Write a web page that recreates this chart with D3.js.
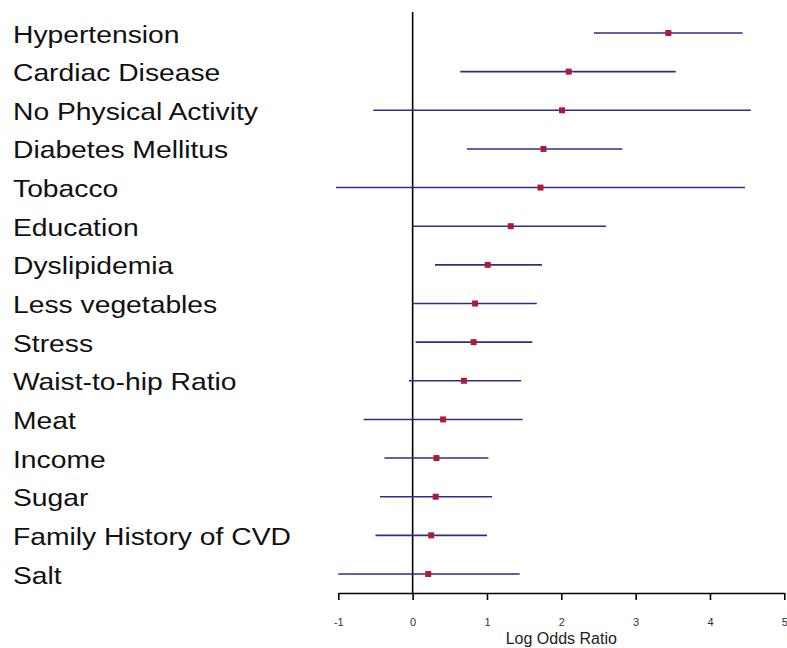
<!DOCTYPE html>
<html>
<head>
<meta charset="utf-8">
<script src="https://cdn.jsdelivr.net/npm/d3@7"></script>
<style>
  html, body { margin: 0; padding: 0; background: #fff; }
  svg { display: block; }
</style>
</head>
<body>
<script>
// Risk factors, top to bottom
const factors = [
  "Hypertension", "Cardiac Disease", "No Physical Activity", "Diabetes Mellitus",
  "Tobacco", "Education", "Dyslipidemia", "Less vegetables", "Stress",
  "Waist-to-hip Ratio", "Meat", "Income", "Sugar", "Family History of CVD", "Salt"
];
// Log odds ratio estimates and 95% interval bounds
const estimate = [3.44, 2.10, 2.01, 1.76, 1.72, 1.32, 1.01, 0.84, 0.82, 0.69, 0.41, 0.32, 0.31, 0.25, 0.21];
const lower    = [2.44, 0.64, -0.53, 0.73, -1.03, 0.00, 0.30, 0.00, 0.04, -0.05, -0.66, -0.38, -0.44, -0.50, -1.00];
const upper    = [4.44, 3.54, 4.55, 2.82, 4.47, 2.60, 1.74, 1.67, 1.61, 1.46, 1.48, 1.02, 1.07, 1.00, 1.44];
const xTicks = [-1, 0, 1, 2, 3, 4, 5];

const W = 787, H = 648;
const svg = d3.select("body").append("svg").attr("width", W).attr("height", H);
svg.append("rect").attr("width", W).attr("height", H).attr("fill", "#fff");

const x = d3.scaleLinear().domain([-1, 5]).range([338.3, 784.3]);
const y = d3.scalePoint().domain(factors).range([33, 574]);
const axisY = 593;

const rows = factors.map((f, i) => ({ f, est: estimate[i], lo: lower[i], hi: upper[i] }));

// Factor labels (slightly wide lettering)
svg.append("g").selectAll("text").data(rows).join("text")
  .attr("transform", d => `translate(13,${y(d.f) + 9.5}) scale(1.14,1)`)
  .attr("font-family", "Liberation Sans, Arial, sans-serif")
  .attr("font-size", 24.8)
  .attr("fill", "#111")
  .text(d => d.f);

// Zero reference line
svg.append("line")
  .attr("x1", x(0)).attr("x2", x(0))
  .attr("y1", 12).attr("y2", axisY)
  .attr("stroke", "#000").attr("stroke-width", 1.6);

// Interval segments
svg.append("g").selectAll("line").data(rows).join("line")
  .attr("x1", d => x(d.lo)).attr("x2", d => x(d.hi))
  .attr("y1", d => y(d.f)).attr("y2", d => y(d.f))
  .attr("stroke", "#2e2e86").attr("stroke-width", 1.6);

// Point estimates
const s = 6;
svg.append("g").selectAll("rect").data(rows).join("rect")
  .attr("x", d => x(d.est) - s / 2)
  .attr("y", d => y(d.f) - s / 2)
  .attr("width", s).attr("height", s)
  .attr("fill", "#b0183c");

// Bottom axis
const axis = svg.append("g")
  .attr("transform", `translate(0,${axisY})`)
  .call(d3.axisBottom(x).tickValues(xTicks).tickSize(7).tickSizeOuter(0).tickPadding(18).tickFormat(d3.format("d")));
axis.select(".domain").attr("stroke", "#000").attr("stroke-width", 1.6);
axis.selectAll(".tick line").attr("stroke", "#000").attr("stroke-width", 1.6);
axis.selectAll(".tick text")
  .attr("font-family", "Liberation Sans, Arial, sans-serif")
  .attr("font-size", 11)
  .attr("fill", "#333")
  .text(d => d < 0 ? "-" + Math.abs(d) : d);

// Axis title
svg.append("text")
  .attr("x", (x(-1) + x(5)) / 2)
  .attr("y", 644)
  .attr("text-anchor", "middle")
  .attr("font-family", "Liberation Sans, Arial, sans-serif")
  .attr("font-size", 16)
  .attr("fill", "#222")
  .text("Log Odds Ratio");
</script>
</body>
</html>
